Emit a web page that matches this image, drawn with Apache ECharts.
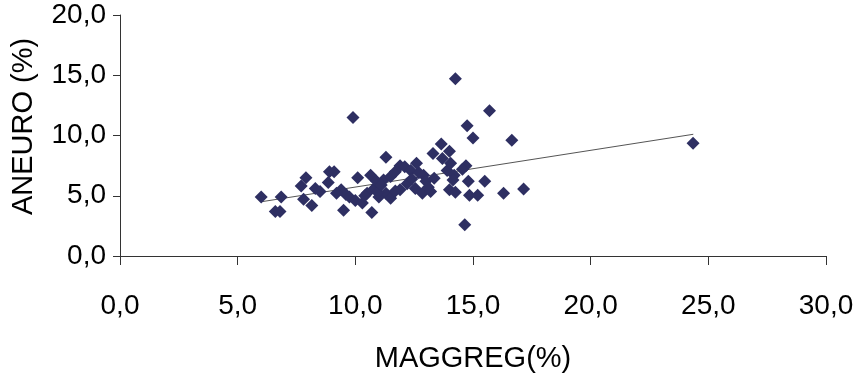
<!DOCTYPE html>
<html>
<head>
<meta charset="utf-8">
<script src="https://cdn.jsdelivr.net/npm/echarts@6/dist/echarts.min.js"></script>
<style>
html,body{margin:0;padding:0;background:#fff;}
#chart{width:864px;height:380px;}
</style>
</head>
<body>
<div id="chart"></div>
<script>
// MAGGREG (%) values
const maggreg = [
  6.0, 6.6, 6.8, 6.85, 7.7, 7.9, 7.8, 8.15, 8.3, 8.5,
  8.9, 9.1, 8.85, 9.4, 9.5, 9.6, 9.75, 9.9, 10.1, 10.0,
  10.3, 10.5, 10.65, 10.7, 10.8, 10.9, 11.0, 11.3, 11.3, 11.5,
  11.2, 11.5, 11.7, 11.9, 11.9, 12.1, 12.35, 12.2, 12.6, 12.55,
  12.85, 13.2, 12.9, 13.3, 13.35, 13.0, 13.65, 14.0, 13.7, 13.9,
  14.05, 14.2, 14.15, 14.0, 14.25, 14.25, 14.7, 14.55, 14.8, 14.75,
  15.0, 14.85, 15.2, 15.5, 14.65, 15.7, 16.3, 16.65, 17.15, 24.35,
  10.4, 10.95, 11.1, 12.4, 13.1, 9.2, 11.7, 12.7
];
// ANEURO (%) values
const aneuro = [
  4.9, 3.7, 3.7, 4.9, 5.8, 6.5, 4.7, 4.2, 5.6, 5.35,
  7.0, 7.0, 6.1, 5.5, 3.8, 5.1, 4.9, 11.5, 6.5, 4.6,
  4.4, 5.2, 6.7, 3.6, 5.6, 6.2, 4.9, 8.2, 5.2, 4.8,
  6.3, 6.6, 7.0, 5.5, 7.5, 7.4, 7.1, 6.0, 7.7, 5.6,
  5.2, 5.35, 6.7, 8.5, 6.45, 6.2, 9.3, 8.7, 8.1, 7.1,
  7.7, 6.7, 6.3, 5.5, 5.3, 14.7, 7.5, 7.2, 6.2, 10.8,
  9.8, 5.05, 5.05, 6.2, 2.6, 12.05, 5.2, 9.6, 5.55, 9.35,
  5.0, 5.3, 5.9, 6.4, 5.7, 5.2, 5.4, 6.9
];
// Linear trend line endpoints
const trendX = [6.0, 24.36];
const trendY = [4.5, 10.1];

const xTickLabels = ['0,0', '5,0', '10,0', '15,0', '20,0', '25,0', '30,0'];
const yTickLabels = ['0,0', '5,0', '10,0', '15,0', '20,0'];
const xName = 'MAGGREG(%)';
const yName = 'ANEURO (%)';

const points = maggreg.map((x, i) => [x, aneuro[i]]);
const trend = trendX.map((x, i) => [x, trendY[i]]);

const chart = echarts.init(document.getElementById('chart'), null, {renderer: 'canvas'});
chart.setOption({
  animation: false,
  backgroundColor: '#ffffff',
  grid: {left: 120, right: 38, top: 15, bottom: 124},
  xAxis: {
    type: 'value', min: 0, max: 30, interval: 5,
    name: xName, nameLocation: 'middle', nameGap: 88,
    nameTextStyle: {fontFamily: 'Liberation Sans Narrow, Liberation Sans, Arial', fontSize: 29, color: '#000'},
    axisLine: {show: true, lineStyle: {color: '#333', width: 1}},
    axisTick: {show: true, inside: false, length: 9, lineStyle: {color: '#333'}},
    axisLabel: {
      margin: 36, fontFamily: 'Liberation Sans Narrow, Liberation Sans, Arial', fontSize: 28, color: '#000',
      formatter: v => xTickLabels[Math.round(v / 5)]
    },
    splitLine: {show: false}
  },
  yAxis: {
    type: 'value', min: 0, max: 20, interval: 5,
    name: yName, nameLocation: 'middle', nameGap: 82, nameRotate: 90,
    nameTextStyle: {fontFamily: 'Liberation Sans, Arial', fontSize: 29, color: '#000', padding: [0, 0, 0, 18]},
    axisLine: {show: true, lineStyle: {color: '#333', width: 1}},
    axisTick: {show: true, inside: false, length: 7, lineStyle: {color: '#333'}},
    axisLabel: {
      margin: 14, fontFamily: 'Liberation Sans, Arial', fontSize: 28, color: '#000',
      formatter: v => yTickLabels[Math.round(v / 5)]
    },
    splitLine: {show: false}
  },
  series: [
    {
      type: 'line', data: trend, symbol: 'none', silent: true,
      lineStyle: {color: '#555', width: 1}, z: 1
    },
    {
      type: 'scatter', data: points, symbol: 'diamond', symbolSize: 13,
      itemStyle: {color: '#2E2F62', opacity: 1}, z: 2
    }
  ]
});
</script>
</body>
</html>
